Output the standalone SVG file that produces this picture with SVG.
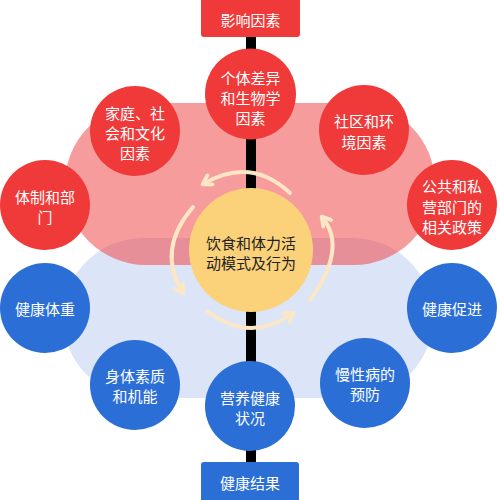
<svg xmlns="http://www.w3.org/2000/svg" width="500" height="500" viewBox="0 0 500 500">
<defs>
<style>
.red{fill:#f03a3a}
.blue{fill:#2b6fd6}
.t{font-family:"Noto Sans CJK SC","Noto Sans",sans-serif;font-size:15px;fill:#ffffff;text-anchor:middle;dominant-baseline:central}
.tc{font-family:"Noto Sans CJK SC","Noto Sans",sans-serif;font-size:15px;fill:#222222;text-anchor:middle;dominant-baseline:central}
.arc{fill:none;stroke:#fbe7c6;stroke-width:4;stroke-linecap:round;marker-end:url(#ah)}
</style>
<marker id="ah" viewBox="0 0 12 12" refX="9" refY="6" markerWidth="14" markerHeight="14" markerUnits="userSpaceOnUse" orient="auto">
<path d="M2,1.5 L9.5,6 L2,10.5" fill="none" stroke="#fbe7c6" stroke-width="3.2" stroke-linecap="round" stroke-linejoin="round"/>
</marker>
</defs>
<rect width="500" height="500" fill="#ffffff"/>
<g id="background">
<rect x="63" y="238" width="370" height="160" rx="80" ry="80" fill="#dce5f8"/>
<rect x="65" y="103" width="370" height="162" rx="81" ry="81" fill="#f03a3a" fill-opacity="0.5"/>
</g>
<g id="connectors">
<rect x="246" y="30" width="10" height="440" fill="#000000"/>
<path class="arc" d="M290,193 Q251,156 203,184"/>
<path class="arc" d="M193,207 Q156,250 183,293"/>
<path class="arc" d="M207,311 Q250,344 293,313"/>
<path class="arc" d="M310,300 Q348,248 322,217"/>
</g>
<g id="top-label">
<rect class="red" x="201" y="-4" width="99" height="41" rx="3"/>
<text class="t" x="250.5" y="19">影响因素</text>
</g>
<g id="bottom-label">
<rect class="blue" x="201" y="462" width="98" height="42" rx="3"/>
<text class="t" x="250" y="482">健康结果</text>
</g>
<g id="n-individual">
<circle class="red" cx="250.5" cy="94" r="45.5"/>
<text class="t" x="250.5" y="77">个体差异</text>
<text class="t" x="250.5" y="97">和生物学</text>
<text class="t" x="250.5" y="117">因素</text>
</g>
<g id="n-family">
<circle class="red" cx="135" cy="131" r="45"/>
<text class="t" x="135" y="112">家庭、社</text>
<text class="t" x="135" y="132">会和文化</text>
<text class="t" x="135" y="152">因素</text>
</g>
<g id="n-community">
<circle class="red" cx="364" cy="130" r="45"/>
<text class="t" x="364" y="120">社区和环</text>
<text class="t" x="364" y="141">境因素</text>
</g>
<g id="n-system">
<circle class="red" cx="45" cy="205" r="45"/>
<text class="t" x="45" y="196">体制和部</text>
<text class="t" x="45" y="216">门</text>
</g>
<g id="n-policy">
<circle class="red" cx="452" cy="205" r="45"/>
<text class="t" x="452" y="185">公共和私</text>
<text class="t" x="452" y="206">营部门的</text>
<text class="t" x="452" y="226">相关政策</text>
</g>
<g id="n-weight">
<circle class="blue" cx="45" cy="308" r="45"/>
<text class="t" x="45" y="308">健康体重</text>
</g>
<g id="n-promotion">
<circle class="blue" cx="452" cy="308" r="45"/>
<text class="t" x="452" y="308">健康促进</text>
</g>
<g id="n-fitness">
<circle class="blue" cx="135" cy="385" r="45"/>
<text class="t" x="135" y="375">身体素质</text>
<text class="t" x="135" y="395">和机能</text>
</g>
<g id="n-chronic">
<circle class="blue" cx="365" cy="383" r="45"/>
<text class="t" x="365" y="373">慢性病的</text>
<text class="t" x="365" y="393">预防</text>
</g>
<g id="n-nutrition">
<circle class="blue" cx="250" cy="406" r="45"/>
<text class="t" x="250" y="397">营养健康</text>
<text class="t" x="250" y="417">状况</text>
</g>
<g id="n-center">
<circle cx="251" cy="250" r="62" fill="#fbd27a"/>
<text class="tc" x="251" y="242">饮食和体力活</text>
<text class="tc" x="251" y="262">动模式及行为</text>
</g>
</svg>
